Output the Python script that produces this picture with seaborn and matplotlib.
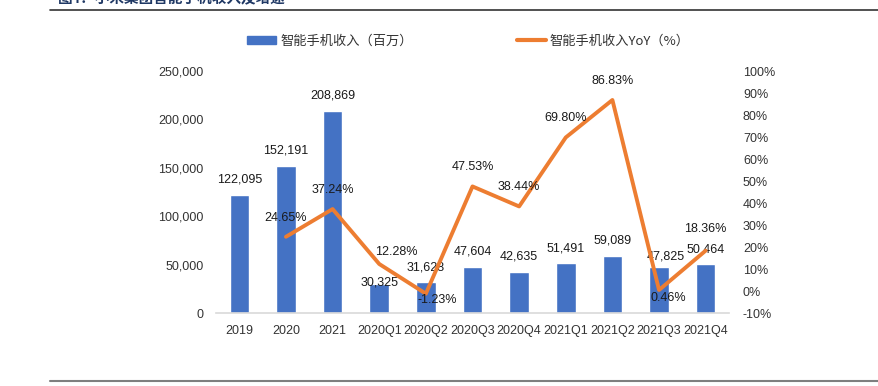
import numpy as np
import pandas as pd
import seaborn as sns
import matplotlib.pyplot as plt
from matplotlib.lines import Line2D
from matplotlib.patches import Patch
from matplotlib.ticker import FuncFormatter

categories = ["2019", "2020", "2021", "2020Q1", "2020Q2", "2020Q3",
              "2020Q4", "2021Q1", "2021Q2", "2021Q3", "2021Q4"]
revenue = [122095, 152191, 208869, 30325, 31628, 47604,
           42635, 51491, 59089, 47825, 50464]
yoy = [np.nan, 24.65, 37.24, 12.28, -1.23, 47.53,
       38.44, 69.80, 86.83, 0.46, 18.36]

title = "图4：小米集团智能手机收入及增速"
bar_name = "智能手机收入（百万）"
line_name = "智能手机收入YoY（%）"

sns.set_theme(style="white")
plt.rcParams['font.family'] = ['Liberation Sans', 'Noto Sans CJK SC', 'DejaVu Sans']
cjk = ['Noto Sans CJK SC', 'DejaVu Sans']

BLUE = "#4472C4"
ORANGE = "#ED7D31"
TXT = "#333333"

df = pd.DataFrame({"cat": categories, "rev": revenue, "yoy": yoy})
df["pos"] = np.arange(len(df))

fig = plt.figure(figsize=(8.79, 3.86), dpi=100)
ax = fig.add_axes([216 / 879, 1 - 313 / 386, (729 - 216) / 879, (313 - 71) / 386])

sns.barplot(data=df, x="cat", y="rev", color=BLUE, width=0.42, saturation=1, ax=ax)
ax.set_ylim(0, 250000)
ax.set_xlim(-0.5, len(categories) - 0.5)
ax.set_yticks(range(0, 250001, 50000))
ax.yaxis.set_major_formatter(FuncFormatter(lambda v, p: f"{v:,.0f}"))
ax.set_xlabel("")
ax.set_ylabel("")

ax2 = ax.twinx()
sns.lineplot(data=df.dropna(), x="pos", y="yoy", color=ORANGE, lw=2.8, ax=ax2)
ax2.set_ylim(-10, 100)
ax2.set_yticks(range(-10, 101, 10))
ax2.yaxis.set_major_formatter(FuncFormatter(lambda v, p: f"{v:.0f}%"))
ax2.set_xlim(-0.5, len(categories) - 0.5)
ax2.set_ylabel("")

for a in (ax, ax2):
    for s in ("top", "left", "right", "bottom"):
        a.spines[s].set_visible(False)
ax.spines["bottom"].set_visible(True)
ax.spines["bottom"].set_color("#D9D9D9")
ax.spines["bottom"].set_linewidth(1.2)

ax.tick_params(axis="y", length=0, pad=9, labelsize=9, labelcolor=TXT)
ax.tick_params(axis="x", length=0, pad=8.5, labelsize=9, labelcolor=TXT)
ax2.tick_params(axis="y", length=0, pad=10, labelsize=9, labelcolor=TXT)

# data labels (offsets in pixels, tuned per label)
bar_off = {3: (0, 1), 9: (7, 10)}
for i, v in enumerate(revenue):
    dx, dy = bar_off.get(i, (0, 15))
    ax.annotate(f"{v:,}", (i, v), xytext=(dx, dy), textcoords="offset pixels",
                ha="center", va="center", fontsize=9, color="#1A1A1A")

line_off = {3: (17, 12), 4: (11, -6), 9: (9, -8), 10: (0, 22)}
for i, v in enumerate(yoy):
    if np.isnan(v):
        continue
    dx, dy = line_off.get(i, (0, 19))
    ax2.annotate(f"{v:.2f}%", (i, v), xytext=(dx, dy), textcoords="offset pixels",
                 ha="center", va="center", fontsize=9, color="#1A1A1A")

handles = [Patch(color=BLUE), Line2D([], [], color=ORANGE, lw=3)]
leg = fig.legend(handles, [bar_name, line_name], ncol=2, frameon=False,
                 loc="center left", bbox_to_anchor=(247 / 879, 1 - 41 / 386),
                 borderpad=0, borderaxespad=0, handlelength=2.2, handleheight=0.5,
                 handletextpad=0.3, columnspacing=7.9,
                 prop={"family": cjk, "size": 9.5})
for t in leg.get_texts():
    t.set_color(TXT)

fig.text(58 / 879, 1 - 3 / 386, title, fontsize=10.5, fontweight="bold",
         color="#1F3864", family=cjk, va="baseline")
fig.add_artist(Line2D([50 / 879, 1], [1 - 10 / 386] * 2, color="#333333", lw=1.2))
fig.add_artist(Line2D([50 / 879, 1], [1 - 381 / 386] * 2, color="#7F7F7F", lw=1.5))

plt.savefig("out.png", dpi=100)
